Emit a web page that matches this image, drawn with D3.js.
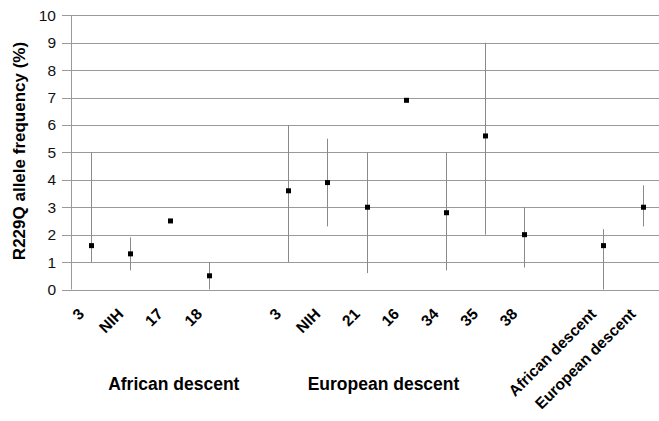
<!DOCTYPE html>
<html lang="en">
<head>
  <meta charset="UTF-8" />
  <title>R229Q allele frequency</title>
  <style>
    body {
      margin: 0;
      background-color: white;
    }
    svg {
      display: block;
      font-family: 'Liberation Sans', Arial, sans-serif;
    }
    .grid line {
      stroke: #9a9a9a;
      stroke-width: 1;
    }
    .err {
      stroke: #8a8a8a;
      stroke-width: 1;
    }
  </style>
  <script src="https://d3js.org/d3.v7.min.js"></script>
</head>
<body>
  <div id="chart"></div>
  <script>
    // one slot per study, empty slots separate the groups
    const labels = ["3", "NIH", "17", "18", "", "3", "NIH", "21", "16", "34", "35", "38", "", "African descent", "European descent"];
    const freq = [1.6, 1.3, 2.5, 0.5, null, 3.6, 3.9, 3.0, 6.9, 2.8, 5.6, 2.0, null, 1.6, 3.0];
    const low = [1.0, 0.7, null, 0, null, 1.0, 2.3, 0.6, null, 0.7, 2.0, 0.8, null, 0, 2.3];
    const high = [5.0, 1.9, null, 1.0, null, 6.0, 5.5, 5.0, null, 5.0, 9.0, 3.0, null, 2.2, 3.8];
    const yTicks = [0, 1, 2, 3, 4, 5, 6, 7, 8, 9, 10];
    const groups = [
      { name: "African  descent", at: 2, dx: 4 },
      { name: "European descent", at: 7.5, dx: -3 }
    ];

    const width = 659;
    const height = 421;

    const svg = d3.select("#chart")
      .append("svg")
      .attr("width", width)
      .attr("height", height);

    const idx = labels.map((d, i) => i);

    const x = d3.scaleBand()
      .domain(idx)
      .range([71.3, 662.3])
      .padding(0);

    const y = d3.scaleLinear()
      .domain([0, 10])
      .range([289.5, 15.3]);

    const cx = i => x(i) + x.bandwidth() / 2;

    // horizontal gridlines with outward ticks
    svg.append("g")
      .attr("class", "grid")
      .selectAll("line")
      .data(yTicks)
      .enter().append("line")
      .attr("x1", 62)
      .attr("x2", width)
      .attr("y1", d => Math.round(y(d)) + 0.5)
      .attr("y2", d => Math.round(y(d)) + 0.5);

    // y axis line
    svg.append("line")
      .attr("x1", 71.5).attr("x2", 71.5)
      .attr("y1", y(10)).attr("y2", y(0))
      .attr("stroke", "#9a9a9a");

    // y tick labels
    svg.append("g")
      .selectAll("text")
      .data(yTicks)
      .enter().append("text")
      .attr("x", 56)
      .attr("y", d => y(d) + 5.5)
      .attr("text-anchor", "end")
      .attr("font-size", 15.5)
      .attr("fill", "#111")
      .text(d => d);

    // y axis title
    svg.append("text")
      .attr("transform", "translate(25, 151) rotate(-90)")
      .attr("text-anchor", "middle")
      .attr("font-size", 17)
      .attr("font-weight", "bold")
      .attr("fill", "#000")
      .text("R229Q allele frequency (%)");

    const withBars = idx.filter(i => low[i] !== null);
    const withPts = idx.filter(i => freq[i] !== null);

    // error bars
    svg.append("g")
      .selectAll("line")
      .data(withBars)
      .enter().append("line")
      .attr("class", "err")
      .attr("x1", i => Math.round(cx(i)) + 0.5)
      .attr("x2", i => Math.round(cx(i)) + 0.5)
      .attr("y1", i => y(high[i]))
      .attr("y2", i => y(low[i]));

    // points
    svg.append("g")
      .selectAll("rect")
      .data(withPts)
      .enter().append("rect")
      .attr("x", i => Math.round(cx(i)) - 2)
      .attr("y", i => y(freq[i]) - 2.5)
      .attr("width", 5)
      .attr("height", 5)
      .attr("fill", "#000");

    // rotated category labels
    svg.append("g")
      .selectAll("text")
      .data(idx.filter(i => labels[i] !== ""))
      .enter().append("text")
      .attr("transform", i => `translate(${cx(i) - 6}, 315) rotate(-45)`)
      .attr("text-anchor", "end")
      .attr("font-size", 15.5)
      .attr("font-weight", "bold")
      .attr("fill", "#000")
      .text(i => labels[i]);

    // group labels
    svg.append("g")
      .selectAll("text")
      .data(groups)
      .enter().append("text")
      .attr("x", d => x(0) + x.bandwidth() * (d.at + 0.5) + d.dx)
      .attr("y", 390)
      .attr("text-anchor", "middle")
      .attr("font-size", 17.5)
      .attr("font-weight", "bold")
      .attr("fill", "#000")
      .text(d => d.name);
  </script>
</body>
</html>
